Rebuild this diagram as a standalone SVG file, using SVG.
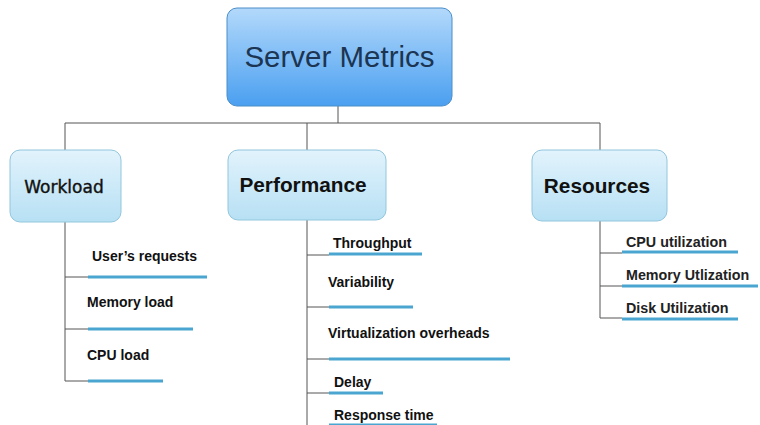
<svg xmlns="http://www.w3.org/2000/svg" width="760" height="425" viewBox="0 0 760 425">
<defs>
<linearGradient id="gMain" x1="0" y1="0" x2="0" y2="1">
<stop offset="0" stop-color="#b3d9fb"/>
<stop offset="1" stop-color="#4a9ff0"/>
</linearGradient>
<linearGradient id="gSub" x1="0" y1="0" x2="0" y2="1">
<stop offset="0" stop-color="#e2f3fc"/>
<stop offset="1" stop-color="#b7e0f4"/>
</linearGradient>
<style>
.conn{stroke:#555;stroke-width:1;fill:none}
.ul{stroke:#4aa6d0;stroke-width:3;fill:none}
.sub{fill:url(#gSub);stroke:#92c6dd;stroke-width:1}
.head{font-family:"Liberation Sans",Arial,sans-serif;font-weight:bold;fill:#111;text-anchor:middle}
.item{font-family:"Liberation Sans",Arial,sans-serif;font-weight:bold;font-size:14px;fill:#111}
.res{font-family:"Liberation Sans",Arial,sans-serif;font-weight:bold;font-size:14.3px;fill:#222}
</style>
</defs>
<rect width="760" height="425" fill="#fff"/>
<g id="connectors">
<path class="conn" d="M338 106V123M65 123H600M65 123V150M307 123V150M600 123V150"/>
<path class="conn" d="M65 222V381M65 277H88M65 329H88M65 381H88"/>
<path class="conn" d="M307 220V425M307 255H329M307 307H329M307 359H329M307 393H329"/>
<path class="conn" d="M600 221V318M600 253H622M600 286H622M600 318H622"/>
</g>
<g id="server-metrics">
<rect x="227" y="8" width="225" height="98" rx="10" fill="url(#gMain)" stroke="#4b8ec8" stroke-width="1"/>
<text x="339.5" y="67" font-family="'Liberation Sans',Arial,sans-serif" font-size="29.5" fill="#1c3552" text-anchor="middle">Server Metrics</text>
</g>
<g id="workload">
<rect class="sub" x="10" y="150" width="111" height="72" rx="10"/>
<text x="64" y="193" font-family="'DejaVu Sans',Verdana,sans-serif" font-size="17" fill="#111" stroke="#111" stroke-width="0.4" text-anchor="middle">Workload</text>
</g>
<g id="performance">
<rect class="sub" x="228" y="150" width="158" height="70" rx="10"/>
<text class="head" x="303" y="192" font-size="20.8">Performance</text>
</g>
<g id="resources">
<rect class="sub" x="532" y="150" width="135" height="71" rx="10"/>
<text class="head" x="597" y="193" font-size="20.8">Resources</text>
</g>
<g id="workload-items">
<text class="item" x="92" y="261">User’s requests</text>
<line class="ul" x1="88" y1="277" x2="207" y2="277"/>
<text class="item" x="87" y="307">Memory load</text>
<line class="ul" x1="88" y1="329" x2="193" y2="329"/>
<text class="item" x="87" y="360">CPU load</text>
<line class="ul" x1="88" y1="381" x2="163" y2="381"/>
</g>
<g id="performance-items">
<text class="item" x="333" y="248">Throughput</text>
<line class="ul" x1="329" y1="254" x2="422" y2="254"/>
<text class="item" x="328" y="287">Variability</text>
<line class="ul" x1="329" y1="307" x2="413" y2="307"/>
<text class="item" x="328" y="338">Virtualization overheads</text>
<line class="ul" x1="329" y1="359" x2="510" y2="359"/>
<text class="item" x="334" y="387">Delay</text>
<line class="ul" x1="329" y1="393" x2="383" y2="393"/>
<text class="item" x="334" y="420">Response time</text>
<line class="ul" x1="329" y1="425" x2="437" y2="425"/>
</g>
<g id="resources-items">
<text class="res" x="626" y="247">CPU utilization</text>
<line class="ul" x1="622" y1="252" x2="738" y2="252"/>
<text class="res" x="626" y="280">Memory Utlization</text>
<line class="ul" x1="622" y1="286" x2="758" y2="286"/>
<text class="res" x="626" y="313">Disk Utilization</text>
<line class="ul" x1="622" y1="319" x2="738" y2="319"/>
</g>
</svg>
